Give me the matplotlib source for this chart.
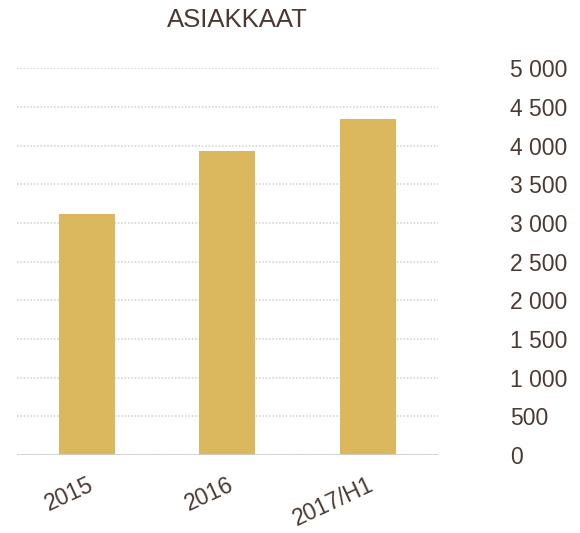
import matplotlib.pyplot as plt

plt.rcParams['font.family'] = ['Liberation Sans', 'DejaVu Sans']

categories = ['2015', '2016', '2017/H1']
asiakkaat = [3120, 3925, 4350]
yticks = [0, 500, 1000, 1500, 2000, 2500, 3000, 3500, 4000, 4500, 5000]
ylabels = ['0', '500', '1 000', '1 500', '2 000', '2 500', '3 000', '3 500', '4 000', '4 500', '5 000']

text_col = '#4a3a32'
bar_col = '#dbb85e'

fig = plt.figure(figsize=(5.8, 5.33), dpi=100)
ax = fig.add_axes([0.029, 0.146, 0.726, 0.726])

x = range(len(categories))
ax.bar(x, asiakkaat, width=0.4, color=bar_col, zorder=3)

ax.set_xlim(-0.5, 2.5)
ax.set_ylim(0, 5000)
ax.grid(axis='y', color='#cfcfcf', linestyle=(0, (1, 1.2)), linewidth=1.1, zorder=0)
ax.axhline(0, color='#d0d0d0', linewidth=1.2, zorder=4)

for s in ax.spines.values():
    s.set_visible(False)

# y labels on the right side, left aligned
ax.yaxis.tick_right()
ax.set_yticks(yticks)
ax.set_yticklabels(ylabels)
ax.tick_params(axis='y', length=0, pad=52, labelsize=16.5, labelcolor=text_col)

ax.set_xticks(list(x))
ax.set_xticklabels(categories, rotation=25, ha='right', rotation_mode='anchor')
ax.tick_params(axis='x', length=0, pad=13, labelsize=16.5, labelcolor=text_col)

fig.text(0.41, 0.962, 'ASIAKKAAT', ha='center', va='center', fontsize=18.5, color=text_col)

fig.savefig('out.png', dpi=100)
